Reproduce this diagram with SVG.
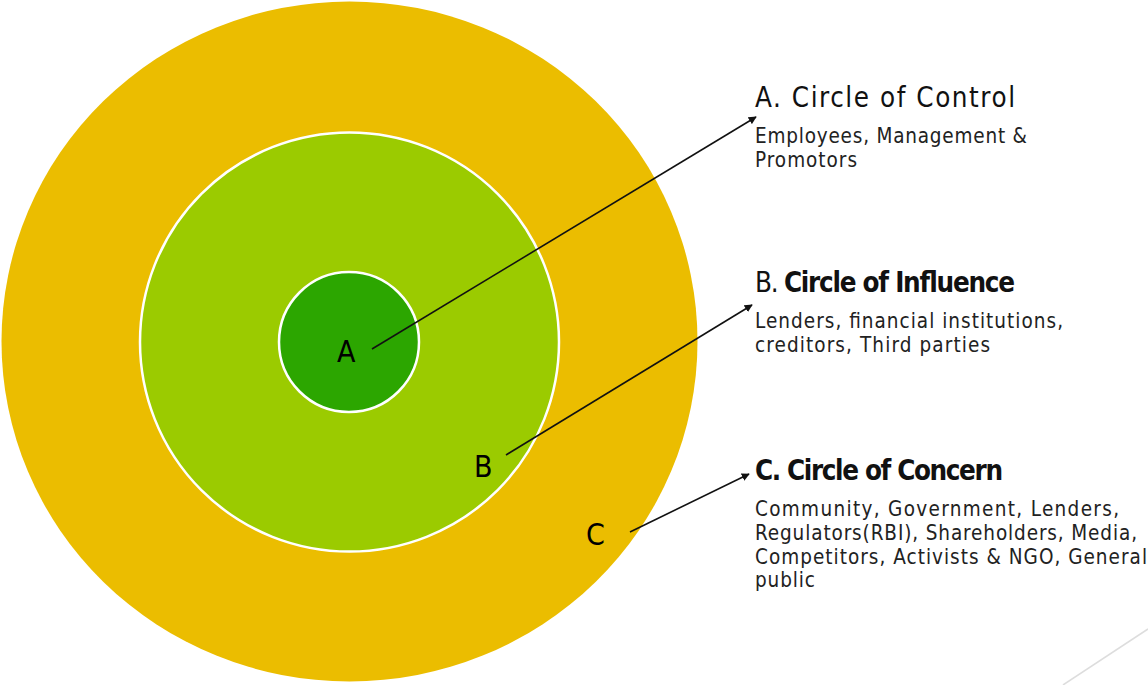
<svg xmlns="http://www.w3.org/2000/svg" width="1148" height="685" viewBox="0 0 1148 685">
  <style>
    .ring { stroke: #ffffff; stroke-width: 2.5; }
    .letter { font-family: "DejaVu Sans Condensed", "DejaVu Sans", sans-serif; font-stretch: condensed; font-size: 30px; fill: #000; }
    .title { font-family: "DejaVu Sans Condensed", "DejaVu Sans", sans-serif; font-stretch: condensed; font-size: 27.5px; fill: #111; }
    .body { font-family: "DejaVu Sans Condensed", "DejaVu Sans", sans-serif; font-stretch: condensed; font-size: 20.5px; fill: #222; }
    .conn { stroke: #111; stroke-width: 1.6; fill: none; marker-end: url(#arrow); }
  </style>
  <defs>
    <marker id="arrow" viewBox="0 0 10 10" refX="9" refY="5" markerWidth="5" markerHeight="5" orient="auto" markerUnits="strokeWidth">
      <path d="M0,0 L10,5 L0,10 z" fill="#111"/>
    </marker>
  </defs>
  <rect width="1148" height="685" fill="#ffffff"/>
  <!-- faint decorative line, bottom right -->
  <line x1="1063" y1="685" x2="1148" y2="629" stroke="#dddddd" stroke-width="1.5"/>

  <g id="circle-concern">
    <ellipse cx="349.5" cy="341.5" rx="348" ry="340" fill="#EBBD00"/>
    <text class="letter" x="586" y="545">C</text>
  </g>
  <g id="circle-influence">
    <circle class="ring" cx="349.5" cy="342" r="209.5" fill="#9BCB00"/>
    <text class="letter" x="474" y="477">B</text>
  </g>
  <g id="circle-control">
    <circle class="ring" cx="349" cy="342" r="70" fill="#2CA600"/>
    <text class="letter" x="337" y="362">A</text>
  </g>

  <g id="connectors">
    <line class="conn" x1="372" y1="349" x2="756" y2="117"/>
    <line class="conn" x1="506" y1="455" x2="752" y2="305"/>
    <line class="conn" x1="630" y1="532" x2="749" y2="474"/>
  </g>

  <g id="label-control">
    <text class="title" x="755" y="107" textLength="260">A. Circle of Control</text>
    <text class="body" x="755" y="143" textLength="272">Employees, Management &amp;</text>
    <text class="body" x="755" y="167" textLength="102">Promotors</text>
  </g>
  <g id="label-influence">
    <text class="title" x="755" y="292" textLength="260">B. <tspan font-weight="bold">Circle of Influence</tspan></text>
    <text class="body" x="755" y="328" textLength="308">Lenders, financial institutions,</text>
    <text class="body" x="755" y="352" textLength="235">creditors, Third parties</text>
  </g>
  <g id="label-concern">
    <text class="title" x="755" y="480" font-weight="bold" textLength="248">C. Circle of Concern</text>
    <text class="body" x="755" y="516" textLength="364">Community, Government, Lenders,</text>
    <text class="body" x="755" y="540" textLength="382">Regulators(RBI), Shareholders, Media,</text>
    <text class="body" x="755" y="564" textLength="392">Competitors, Activists &amp; NGO, General</text>
    <text class="body" x="755" y="587" textLength="60">public</text>
  </g>
</svg>
